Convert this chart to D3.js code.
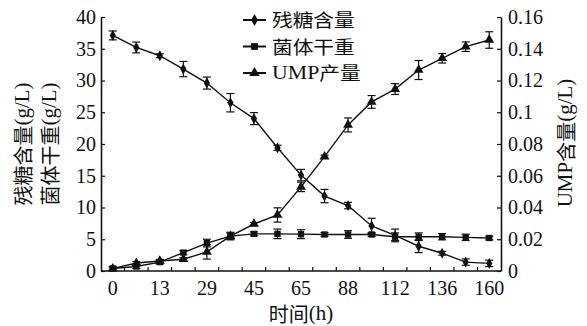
<!DOCTYPE html>
<html><head><meta charset="utf-8">
<script src="https://cdn.jsdelivr.net/npm/d3@7/dist/d3.min.js"></script>
<style>
body{margin:0;background:#fff;}
svg{display:block;}
text{fill:#111;}
</style></head>
<body>
<svg id="c" width="587" height="326"></svg>
<script>
// ---- data ----
const times = ["0","6","13","21","29","37","45","55","65","76","88","100","112","124","136","148","160"];
const tickLabels = ["0","13","29","45","65","88","112","136","160"];
const sugar    = [37.1,35.2,33.9,31.8,29.6,26.5,24.0,19.4,15.1,11.8,10.3,7.1,5.6,3.9,2.8,1.4,1.2];
const sugarErr = [0.7,0.85,0.3,1.2,0.95,1.45,0.95,0.4,0.9,1.05,0.5,1.2,1.0,1.0,0.3,0.5,0.5];
const biomass    = [0.4,0.7,1.4,2.9,4.4,5.5,5.85,5.85,5.8,5.75,5.75,5.75,5.4,5.4,5.4,5.3,5.2];
const biomassErr = [0.3,0.3,0.3,0.3,0.6,0.6,0.3,0.75,0.7,0.3,0.6,0.3,0.6,0.6,0.5,0.5,0.3];
const ump    = [0.0015,0.005,0.0063,0.0074,0.012,0.022,0.0296,0.0353,0.053,0.072,0.092,0.1065,0.1146,0.1266,0.134,0.1413,0.1455];
const umpErr = [0.001,0.001,0.001,0.001,0.0045,0.002,0.001,0.0045,0.003,0.001,0.0044,0.004,0.0034,0.006,0.003,0.003,0.0052];
const leftTicks = [0,5,10,15,20,25,30,35,40];
const rightTicks = [0,0.02,0.04,0.06,0.08,0.1,0.12,0.14,0.16];
const seriesNames = ["残糖含量","菌体干重","UMP产量"];

// ---- layout ----
const svg = d3.select("#c");
const L = 101, R = 501, T = 17, B = 271;
const x = d3.scaleBand().domain(times).range([L, R]).padding(0);
const yL = d3.scaleLinear().domain([0,40]).range([B,T]);
const yR = d3.scaleLinear().domain([0,0.16]).range([B,T]);
const serif = "'Liberation Serif','Times New Roman',serif";
const cjk = "'Noto Sans CJK SC','Noto Serif CJK SC',serif";
const cx = t => x(t) + x.bandwidth()/2;

// axes
const gL = svg.append("g").attr("transform",`translate(${L},0)`)
  .call(d3.axisLeft(yL).tickValues(leftTicks).tickSizeInner(-4).tickSizeOuter(0).tickPadding(5));
const gR = svg.append("g").attr("transform",`translate(${R},0)`)
  .call(d3.axisRight(yR).tickValues(rightTicks).tickSizeInner(-4).tickSizeOuter(0).tickPadding(7)
    .tickFormat(d => String(+d.toFixed(2))));
const gB = svg.append("g").attr("transform",`translate(0,${B})`)
  .call(d3.axisBottom(x).tickValues(tickLabels).tickSize(0).tickPadding(10));
gB.select(".domain").attr("d",`M${L},0H${R}`);
// band boundary ticks (inward)
gB.selectAll(".bt").data(times.slice(1)).enter().append("line")
  .attr("x1",d=>x(d)).attr("x2",d=>x(d)).attr("y1",0).attr("y2",-4)
  .attr("stroke","#111").attr("stroke-width",1.2);
[gL,gR,gB].forEach(g=>{
  g.selectAll("text").style("font-family",serif).style("font-size","20px").attr("fill","#111");
  g.selectAll(".domain").attr("stroke","#111").attr("stroke-width",1.6);
  g.selectAll(".tick line").attr("stroke","#111").attr("stroke-width",1.2);
});

// axis titles
svg.append("text").attr("transform","translate(22,144) rotate(-90)")
  .attr("text-anchor","middle").attr("dominant-baseline","central")
  .style("font-size","20px").style("font-family",cjk)
  .html(`残糖含量<tspan style="font-family:${serif};font-size:21px">(g/L)</tspan>`);
svg.append("text").attr("transform","translate(49,144) rotate(-90)")
  .attr("text-anchor","middle").attr("dominant-baseline","central")
  .style("font-size","20px").style("font-family",cjk)
  .html(`菌体干重<tspan style="font-family:${serif};font-size:21px">(g/L)</tspan>`);
svg.append("text").attr("transform","translate(565,143) rotate(-90)")
  .attr("text-anchor","middle").attr("dominant-baseline","central")
  .style("font-size","20px").style("font-family",cjk)
  .html(`<tspan style="font-family:${serif};font-size:21px">UMP</tspan>含量<tspan style="font-family:${serif};font-size:21px">(g/L)</tspan>`);
svg.append("text").attr("x",301).attr("y",313)
  .attr("text-anchor","middle").attr("dominant-baseline","central")
  .style("font-size","20px").style("font-family",cjk)
  .html(`时间<tspan style="font-family:${serif};font-size:21px">(h)</tspan>`);

// series
const series = [
  {vals:sugar, err:sugarErr, y:yL, sym:d3.symbolDiamond, size:34},
  {vals:biomass, err:biomassErr, y:yL, sym:d3.symbolSquare, size:40},
  {vals:ump, err:umpErr, y:yR, sym:d3.symbolTriangle, size:42}
];
series.forEach(s=>{
  const pts = times.map((t,i)=>({t, v:s.vals[i], e:s.err[i]}));
  svg.append("path").datum(pts)
    .attr("d", d3.line().x(d=>cx(d.t)).y(d=>s.y(d.v)))
    .attr("fill","none").attr("stroke","#111").attr("stroke-width",1.4);
  const eb = svg.append("g").attr("stroke","#111").attr("stroke-width",1.2);
  pts.forEach(d=>{
    const px = cx(d.t), y1 = s.y(d.v+d.e), y2 = s.y(d.v-d.e);
    eb.append("line").attr("x1",px).attr("x2",px).attr("y1",y1).attr("y2",y2);
    eb.append("line").attr("x1",px-4).attr("x2",px+4).attr("y1",y1).attr("y2",y1);
    eb.append("line").attr("x1",px-4).attr("x2",px+4).attr("y1",y2).attr("y2",y2);
  });
  svg.append("g").selectAll("path").data(pts).enter().append("path")
    .attr("d", d3.symbol().type(s.sym).size(s.size))
    .attr("transform", d=>`translate(${cx(d.t)},${s.y(d.v)})`)
    .attr("fill","#111");
});

// legend
const legY = [20,46.5,73];
series.forEach((s,i)=>{
  const g = svg.append("g").attr("transform",`translate(0,${legY[i]})`);
  g.append("line").attr("x1",243).attr("x2",266).attr("y1",0).attr("y2",0)
    .attr("stroke","#111").attr("stroke-width",2);
  g.append("path").attr("d", d3.symbol().type(s.sym).size(s.size+6)).attr("transform","translate(254.5,0)").attr("fill","#111");
  const t = g.append("text").attr("transform","translate(272,0) scale(1.15,1)")
    .attr("dominant-baseline","central")
    .style("font-size","18px").style("font-family",cjk);
  if(i===2){
    t.html(`<tspan style="font-family:${serif};font-size:19px">UMP</tspan>产量`);
  } else t.text(seriesNames[i]);
});
</script>
</body></html>
